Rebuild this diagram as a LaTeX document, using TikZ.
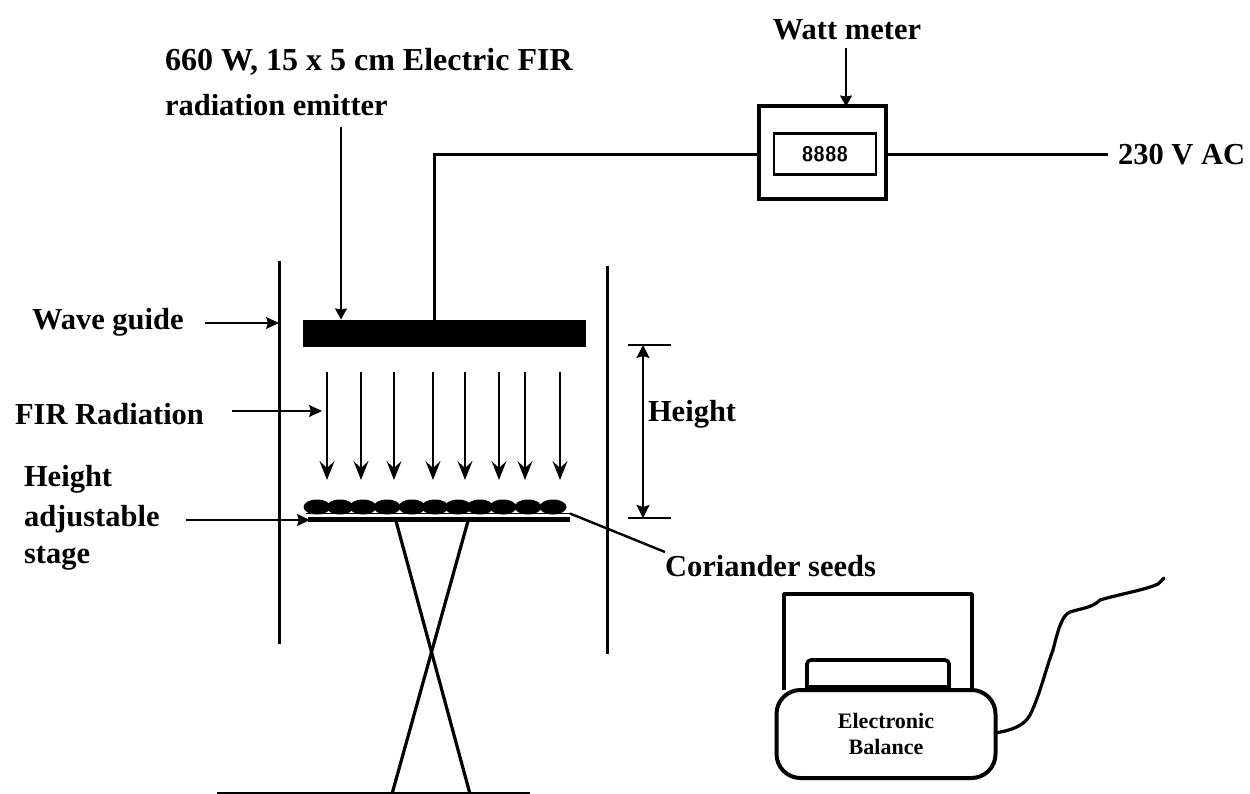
\documentclass[tikz,border=0pt]{standalone}
\usepackage{fontspec}
\setmainfont{Liberation Serif}
\usetikzlibrary{arrows.meta,shapes.geometric}
\tikzset{
  every node/.style={inner sep=0pt,outer sep=0pt},
  lbl/.style={font=\fontsize{30.5}{36}\selectfont\bfseries,align=left},
  wire/.style={line width=3pt},
  wall/.style={line width=3pt},
  arr/.style={line width=1.6pt,-{Stealth[length=13pt,width=12pt,inset=2pt]}},
  sarr/.style={line width=1.6pt,-{Stealth[length=11pt,width=12pt,inset=1pt]}},
  ray/.style={line width=1.5pt,-{Stealth[length=19pt,width=15pt,inset=7pt]}},
}
\begin{document}
\begin{tikzpicture}[x=1pt,y=-1pt]
\useasboundingbox (0,0) rectangle (1250,794);
% labels
\node[lbl,font=\fontsize{32}{36}\selectfont\bfseries,anchor=west] (emit1) at (165,62) {660 W, 15 x 5 cm Electric FIR};
\node[lbl,anchor=west] (emit2) at (165,105) {radiation emitter};
\node[lbl,anchor=center] (wm) at (847,30) {Watt meter};
\node[lbl,anchor=west] (ac) at (1118,155) {230 V AC};
\node[lbl,anchor=west] (wg) at (32,322) {Wave guide};
\node[lbl,anchor=west] (fir) at (15,414) {FIR Radiation};
\node[lbl,anchor=west] (hh) at (648,414) {Height};
\node[lbl,anchor=west] (st1) at (24,479) {Height};
\node[lbl,anchor=west] (st2) at (24,519) {adjustable};
\node[lbl,anchor=west] (st3) at (24,558) {stage};
\node[lbl,anchor=west] (cs) at (665,566) {Coriander seeds};
% emitter
\node[fill=black,minimum width=283pt,minimum height=27pt] (em) at (444,333) {};
% walls
\coordinate (wl1) at (279,261); \coordinate (wl2) at (279,644);
\coordinate (wr1) at (607,266); \coordinate (wr2) at (607,654);
\draw[wall] (wl1) -- (wl2);
\draw[wall] (wr1) -- (wr2);
% watt meter
\node[draw,line width=4pt,minimum width=127pt,minimum height=93pt] (mt) at (822,153) {};
\node[draw,line width=2.2pt,minimum width=102pt,minimum height=41pt,font=\fontsize{21}{24}\selectfont\bfseries\sffamily] (disp) at (825,154) {8888};
% wires
\coordinate (wc) at (434,155);
\draw[wire] (em.north -| wc) -- (wc) -- (mt.west |- wc);
\coordinate (acend) at (1108,155);
\draw[wire] (mt.east |- acend) -- (acend);
% annotation arrows
\coordinate (a1) at (846,48);
\draw[sarr] (a1) -- (mt.north -| a1);
\coordinate (a2) at (341,127);
\draw[sarr] (a2) -- (em.north -| a2);
\coordinate (a3) at (205,323);
\coordinate (a3e) at (279,323);
\draw[arr] (a3) -- (a3e);
\coordinate (a4) at (232,411);
\coordinate (a4e) at (322,411);
\draw[arr] (a4) -- (a4e);
% rays
\foreach \n/\x in {r1/327,r2/361,r3/394,r4/433,r5/465,r6/499,r7/525,r8/560}{
  \coordinate (\n s) at (\x,372);
  \coordinate (\n e) at (\x,480);
  \draw[ray] (\n s) -- (\n e);
}
% height dimension
\coordinate (h1a) at (628,345); \coordinate (h1b) at (671,345);
\coordinate (h2a) at (628,518); \coordinate (h2b) at (671,518);
\draw[line width=2pt] (h1a) -- (h1b);
\draw[line width=2pt] (h2a) -- (h2b);
\coordinate (h1m) at (643,345); \coordinate (h2m) at (643,518);
\draw[line width=1.6pt,{Stealth[length=13pt,width=13pt,inset=2pt]}-{Stealth[length=13pt,width=13pt,inset=2pt]}] (h1m) -- (h2m);
% stage
\node[fill=black,minimum width=262pt,minimum height=5pt] (stage) at (439,519) {};
\coordinate (ts1) at (306,513.5); \coordinate (ts2) at (570,513.5);
\draw[line width=1.4pt] (ts1) -- (ts2);
\foreach \n/\x in {s1/317,s2/340,s3/363,s4/387,s5/412,s6/435,s7/458,s8/480,s9/503,s10/528,s11/553}{
  \node[ellipse,fill=black,minimum width=27pt,minimum height=15pt] (\n) at (\x,507) {};
}
% stage arrow
\coordinate (a5) at (186,520);
\coordinate (a5e) at (310,520);
\draw[arr] (a5) -- (a5e);
% seeds leader
\coordinate (lead) at (665,552);
\draw[line width=2.4pt] (ts2) -- (lead);
% scissor
\coordinate (sc1) at (396,521); \coordinate (sc2) at (468,521);
\coordinate (sc3) at (470,794); \coordinate (sc4) at (392,794);
\draw[line width=3.2pt] (sc1) -- (sc3);
\draw[line width=3.2pt] (sc2) -- (sc4);
% base
\coordinate (b1) at (217,793); \coordinate (b2) at (530,793);
\draw[line width=2.5pt] (b1) -- (b2);
% balance
\draw[line width=3.6pt,line join=round] (784,690) -- (784,594) -- (972,594) -- (972,690);
\draw[line width=3.6pt,rounded corners=4pt] (807,688) -- (807,660) -- (949,660) -- (949,688);
\draw[line width=4pt] (807,687) -- (949,687);
\node[draw,fill=white,line width=4pt,rounded corners=24pt,minimum width=219pt,minimum height=88pt,font=\fontsize{22}{26}\selectfont\bfseries,align=center] (bal) at (886,734) {Electronic\\Balance};
\coordinate (c1) at (1164,578);
\draw[line width=3.2pt,line cap=round,line join=round] (bal.east |- 0,733) .. controls (1012,730) and (1024,726) .. (1030,715) .. controls (1040,695) and (1046,668) .. (1053,650) .. controls (1058,630) and (1062,615) .. (1070,612) .. controls (1082,608) and (1092,608) .. (1100,600) .. controls (1120,594) and (1145,590) .. (1158,584) -- (c1);
\end{tikzpicture}
\end{document}
